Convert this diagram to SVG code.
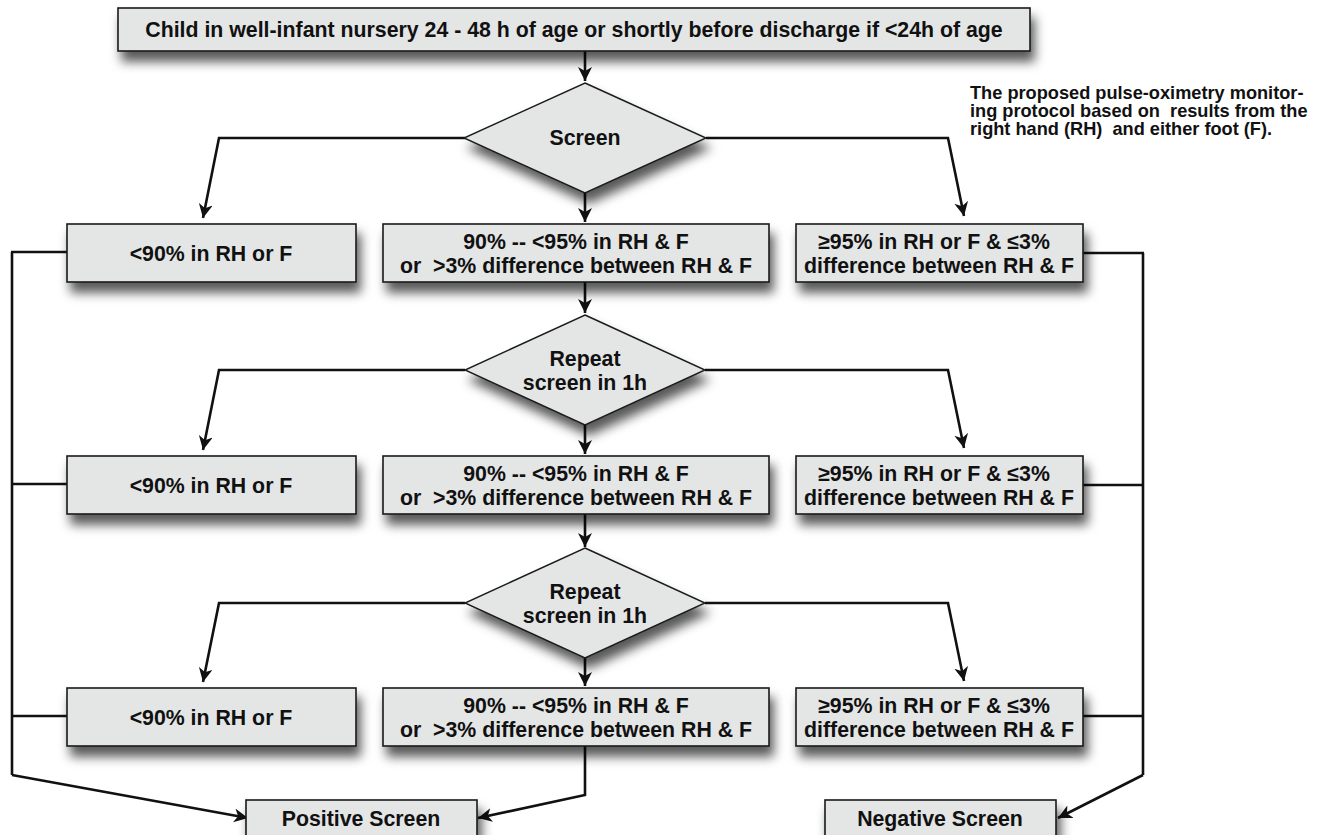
<svg xmlns="http://www.w3.org/2000/svg" width="1331" height="835" viewBox="0 0 1331 835">
<defs>
<style>
.box{fill:#e4e5e5;stroke:#1a1a1a;stroke-width:1.6}
.dia{fill:#e4e5e5;stroke:#1a1a1a;stroke-width:1.4}
.t{font-family:"Liberation Sans",Arial,sans-serif;font-weight:bold;font-size:21.3px;fill:#111;text-anchor:middle;white-space:pre}
.note{font-family:"Liberation Sans",Arial,sans-serif;font-weight:bold;font-size:18.2px;fill:#111;white-space:pre}
.c{fill:none;stroke:#111;stroke-width:2.6;stroke-linejoin:miter}
.a{marker-end:url(#arr)}
</style>
<filter id="sh" x="-20%" y="-30%" width="150%" height="200%">
<feDropShadow dx="4" dy="10" stdDeviation="5.5" flood-color="#000" flood-opacity="0.65"/>
</filter>
<marker id="arr" markerUnits="userSpaceOnUse" markerWidth="16" markerHeight="16" refX="14" refY="7" orient="auto">
<path d="M0,0 L14,7 L0,14 L4,7 z" fill="#111"/>
</marker>
</defs>
<rect width="1331" height="835" fill="#fff"/>

<g id="connectors">
<path class="c a" d="M585,51 L585,81"/>
<path class="c a" d="M465,138 L219,138 L203,218"/>
<path class="c a" d="M585,193 L585,222"/>
<path class="c a" d="M706,138 L948,138 L964,216"/>
<path class="c a" d="M585,282 L585,313"/>
<path class="c a" d="M465,370 L219,370 L203,450"/>
<path class="c a" d="M585,425 L585,454"/>
<path class="c a" d="M705,370 L948,370 L964,448"/>
<path class="c a" d="M585,514 L585,547"/>
<path class="c a" d="M465,603 L219,603 L203,682"/>
<path class="c a" d="M585,658 L585,686"/>
<path class="c a" d="M705,603 L948,603 L964,681"/>
<path class="c" d="M67,252 L11,252 M12,252 L12,775"/>
<path class="c" d="M67,484 L12,484"/>
<path class="c" d="M67,716 L12,716"/>
<path class="c a" d="M12,775 L248,818"/>
<path class="c a" d="M585,746 L585,795 L478,818"/>
<path class="c" d="M1083,253 L1144,253 M1143,253 L1143,775"/>
<path class="c" d="M1083,485 L1143,485"/>
<path class="c" d="M1083,716 L1143,716"/>
<path class="c a" d="M1143,775 L1058,818"/>
</g>

<g id="start">
<rect class="box" x="118" y="8" width="912" height="43" filter="url(#sh)"/>
<text class="t" x="574" y="37">Child in well-infant nursery 24 - 48 h of age or shortly before discharge if &lt;24h of age</text>
</g>

<g id="note">
<text class="note" x="970" y="99">The proposed pulse-oximetry monitor-</text>
<text class="note" x="970" y="117">ing protocol based on  results from the</text>
<text class="note" x="970" y="135">right hand (RH)  and either foot (F).</text>
</g>

<g id="screen1">
<polygon class="dia" points="585,83 706,138 585,193 464,138" filter="url(#sh)"/>
<text class="t" x="585" y="145">Screen</text>
</g>

<g id="low1">
<rect class="box" x="67" y="224" width="289" height="58" filter="url(#sh)"/>
<text class="t" x="211" y="261">&lt;90% in RH or F</text>
</g>
<g id="mid1">
<rect class="box" x="383" y="224" width="386" height="58" filter="url(#sh)"/>
<text class="t" x="576" y="249">90% -- &lt;95% in RH &amp; F</text>
<text class="t" x="576" y="273">or  &gt;3% difference between RH &amp; F</text>
</g>
<g id="high1">
<rect class="box" x="796" y="224" width="287" height="58" filter="url(#sh)"/>
<text class="t" x="934" y="249">≥95% in RH or F &amp; ≤3%</text>
<text class="t" x="939" y="273">difference between RH &amp; F</text>
</g>

<g id="screen2">
<polygon class="dia" points="585,315 705,370 585,425 465,370" filter="url(#sh)"/>
<text class="t" x="585" y="366">Repeat</text>
<text class="t" x="585" y="390">screen in 1h</text>
</g>

<g id="low2">
<rect class="box" x="67" y="456" width="289" height="58" filter="url(#sh)"/>
<text class="t" x="211" y="493">&lt;90% in RH or F</text>
</g>
<g id="mid2">
<rect class="box" x="383" y="456" width="386" height="58" filter="url(#sh)"/>
<text class="t" x="576" y="481">90% -- &lt;95% in RH &amp; F</text>
<text class="t" x="576" y="505">or  &gt;3% difference between RH &amp; F</text>
</g>
<g id="high2">
<rect class="box" x="796" y="456" width="287" height="58" filter="url(#sh)"/>
<text class="t" x="934" y="481">≥95% in RH or F &amp; ≤3%</text>
<text class="t" x="939" y="505">difference between RH &amp; F</text>
</g>

<g id="screen3">
<polygon class="dia" points="585,548 705,603 585,658 465,603" filter="url(#sh)"/>
<text class="t" x="585" y="599">Repeat</text>
<text class="t" x="585" y="623">screen in 1h</text>
</g>

<g id="low3">
<rect class="box" x="67" y="688" width="289" height="58" filter="url(#sh)"/>
<text class="t" x="211" y="725">&lt;90% in RH or F</text>
</g>
<g id="mid3">
<rect class="box" x="383" y="688" width="386" height="58" filter="url(#sh)"/>
<text class="t" x="576" y="713">90% -- &lt;95% in RH &amp; F</text>
<text class="t" x="576" y="737">or  &gt;3% difference between RH &amp; F</text>
</g>
<g id="high3">
<rect class="box" x="796" y="688" width="287" height="58" filter="url(#sh)"/>
<text class="t" x="934" y="713">≥95% in RH or F &amp; ≤3%</text>
<text class="t" x="939" y="737">difference between RH &amp; F</text>
</g>

<g id="positive">
<rect class="box" x="246" y="800" width="231" height="50" filter="url(#sh)"/>
<text class="t" x="361" y="826">Positive Screen</text>
</g>
<g id="negative">
<rect class="box" x="825" y="800" width="231" height="50" filter="url(#sh)"/>
<text class="t" x="940" y="826">Negative Screen</text>
</g>
</svg>
